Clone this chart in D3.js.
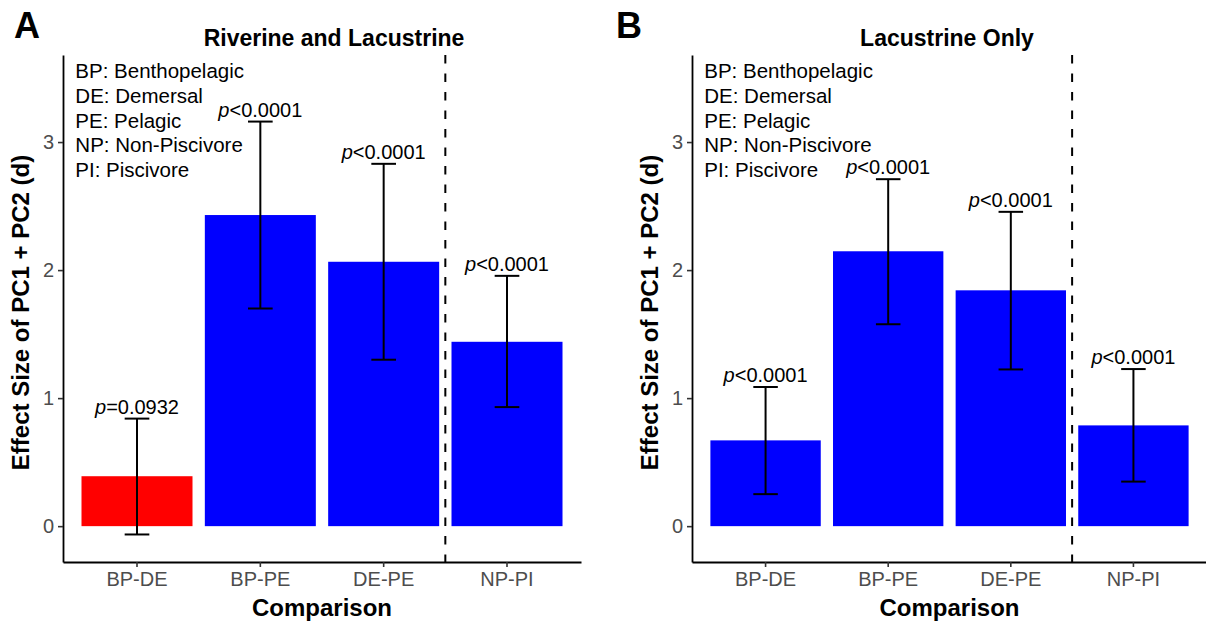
<!DOCTYPE html>
<html>
<head>
<meta charset="utf-8">
<script src="https://cdn.jsdelivr.net/npm/d3@7"></script>
<style>
  body { margin: 0; background: #fff; }
  svg { display: block; font-family: "Liberation Sans", Arial, Helvetica, sans-serif; }
</style>
</head>
<body>
<svg width="1206" height="625"></svg>
<script>
// chart values
var comparisons = ["BP-DE", "BP-PE", "DE-PE", "NP-PI"];
var yTicks = [0, 1, 2, 3];
var legendLines = ["BP: Benthopelagic", "DE: Demersal", "PE: Pelagic", "NP: Non-Piscivore", "PI: Piscivore"];

var effectA = [0.39, 2.43, 2.065, 1.44];
var lowerA = [-0.065, 1.70, 1.30, 0.93];
var upperA = [0.84, 3.16, 2.83, 1.955];
var pTextA = ["=0.0932", "<0.0001", "<0.0001", "<0.0001"];

var effectB = [0.67, 2.147, 1.842, 0.787];
var lowerB = [0.25, 1.577, 1.224, 0.348];
var upperB = [1.087, 2.71, 2.455, 1.227];
var pTextB = ["<0.0001", "<0.0001", "<0.0001", "<0.0001"];

var svg = d3.select("svg");

function drawPanel(opt) {
  var data = comparisons.map(function(c, i) {
    return { name: c, d: opt.effect[i], lo: opt.lower[i], hi: opt.upper[i], p: opt.pText[i] };
  });

  var x = d3.scaleBand().domain(comparisons)
    .range([opt.left, opt.right])
    .paddingInner(0.1).paddingOuter(0.15);
  var y = d3.scaleLinear().domain([-0.28, 3.68]).range([562, 55]);

  var g = svg.append("g");

  // panel letter + title
  svg.append("text")
    .attr("x", opt.letterX).attr("y", 38)
    .attr("font-size", "36px").attr("font-weight", "bold")
    .text(opt.letter);
  svg.append("text")
    .attr("x", opt.titleX).attr("y", 46)
    .attr("text-anchor", "middle")
    .attr("font-size", "23px").attr("font-weight", "bold")
    .text(opt.title);

  // bars
  g.selectAll(".bar")
    .data(data)
    .enter().append("rect")
    .attr("class", "bar")
    .attr("x", function(d) { return x(d.name); })
    .attr("y", function(d) { return y(d.d); })
    .attr("width", x.bandwidth())
    .attr("height", function(d) { return y(0) - y(d.d); })
    .attr("fill", function(d) { return d.p.charAt(0) == "=" ? "#ff0000" : "#0000ff"; });

  // error bars
  var capW = x.step() * 0.2;
  var eb = g.selectAll(".err").data(data).enter().append("g").attr("class", "err")
    .attr("stroke", "#000").attr("stroke-width", 2);
  eb.append("line")
    .attr("x1", function(d) { return x(d.name) + x.bandwidth() / 2; })
    .attr("x2", function(d) { return x(d.name) + x.bandwidth() / 2; })
    .attr("y1", function(d) { return y(d.lo); })
    .attr("y2", function(d) { return y(d.hi); });
  eb.append("line")
    .attr("x1", function(d) { return x(d.name) + x.bandwidth() / 2 - capW / 2; })
    .attr("x2", function(d) { return x(d.name) + x.bandwidth() / 2 + capW / 2; })
    .attr("y1", function(d) { return y(d.hi); })
    .attr("y2", function(d) { return y(d.hi); });
  eb.append("line")
    .attr("x1", function(d) { return x(d.name) + x.bandwidth() / 2 - capW / 2; })
    .attr("x2", function(d) { return x(d.name) + x.bandwidth() / 2 + capW / 2; })
    .attr("y1", function(d) { return y(d.lo); })
    .attr("y2", function(d) { return y(d.lo); });

  // p labels
  var pl = g.selectAll(".plab").data(data).enter().append("text")
    .attr("class", "plab")
    .attr("x", function(d) { return x(d.name) + x.bandwidth() / 2; })
    .attr("y", function(d) { return y(d.hi) - 5; })
    .attr("text-anchor", "middle")
    .attr("font-size", "20px");
  pl.append("tspan").attr("font-style", "italic").text("p");
  pl.append("tspan").text(function(d) { return d.p; });

  // dashed separator between habitat and diet comparisons
  var sepX = (x("DE-PE") + x.bandwidth() + x("NP-PI")) / 2;
  g.append("line")
    .attr("x1", sepX).attr("x2", sepX)
    .attr("y1", y.range()[1]).attr("y2", y.range()[0])
    .attr("stroke", "#000").attr("stroke-width", 2)
    .attr("stroke-dasharray", "8.5,10");

  // legend text
  var lx = x("BP-DE") + x.bandwidth() / 2 - x.step() / 2;
  g.selectAll(".leg").data(legendLines).enter().append("text")
    .attr("class", "leg")
    .attr("x", lx)
    .attr("y", function(d, i) { return y(3.5) + i * 24.8; })
    .attr("font-size", "20.5px")
    .text(function(d) { return d; });

  // axes
  var yAxis = g.append("g")
    .attr("transform", "translate(" + opt.left + ",0)")
    .call(d3.axisLeft(y).tickValues(yTicks).tickFormat(d3.format("d"))
      .tickSize(5).tickSizeOuter(0).tickPadding(4));
  var xAxis = g.append("g")
    .attr("transform", "translate(0,562)")
    .call(d3.axisBottom(x).tickSize(5).tickSizeOuter(0).tickPadding(5));

  [yAxis, xAxis].forEach(function(a) {
    a.select(".domain").attr("stroke", "#000").attr("stroke-width", 1.8);
    a.selectAll(".tick line").attr("stroke", "#333").attr("stroke-width", 1.6);
    a.selectAll(".tick text")
      .attr("fill", "#4d4d4d")
      .attr("font-size", "20px")
      .attr("font-family", "Liberation Sans, Arial, sans-serif");
  });

  // axis titles
  g.append("text")
    .attr("x", (opt.left + opt.right) / 2)
    .attr("y", 616)
    .attr("text-anchor", "middle")
    .attr("font-size", "24px").attr("font-weight", "bold")
    .text("Comparison");
  g.append("text")
    .attr("transform", "translate(" + (opt.left - 34) + "," + ((y.range()[0] + y.range()[1]) / 2 + 4) + ") rotate(-90)")
    .attr("text-anchor", "middle")
    .attr("font-size", "24px").attr("font-weight", "bold")
    .text("Effect Size of PC1 + PC2 (d)");
}

drawPanel({
  left: 63, right: 581, letter: "A", letterX: 14, title: "Riverine and Lacustrine", titleX: 334,
  effect: effectA, lower: lowerA, upper: upperA, pText: pTextA
});
drawPanel({
  left: 692, right: 1207, letter: "B", letterX: 616, title: "Lacustrine Only", titleX: 947,
  effect: effectB, lower: lowerB, upper: upperB, pText: pTextB
});
</script>
</body>
</html>
